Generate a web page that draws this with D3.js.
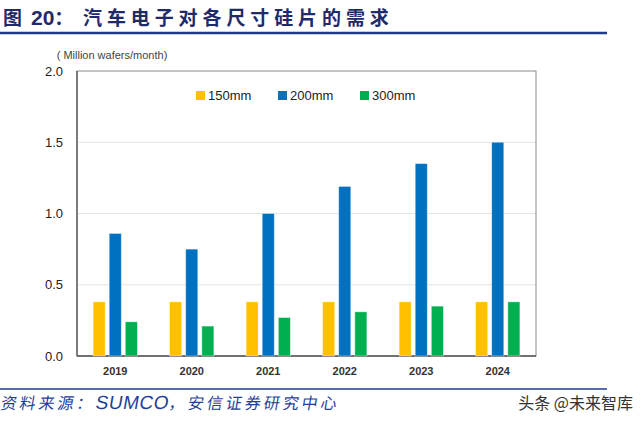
<!DOCTYPE html>
<html><head><meta charset="utf-8">
<script src="https://cdn.jsdelivr.net/npm/d3@7"></script>
<style>body{margin:0;background:#fff}svg{display:block}</style>
</head><body>
<svg id="c" width="640" height="422"></svg>
<script>
const categories = ["2019","2020","2021","2022","2023","2024"];
const seriesNames = ["150mm","200mm","300mm"];
const s150 = [0.38,0.38,0.38,0.38,0.38,0.38];
const s200 = [0.86,0.75,1.00,1.19,1.35,1.50];
const s300 = [0.24,0.21,0.27,0.31,0.35,0.38];
const yTicks = [0,0.5,1.0,1.5,2.0];
const colors = ["#FFC000","#0070C0","#00B050"];

const svg = d3.select("#c");
const m = {l:77,r:536,t:71,b:356};
const x = d3.scaleBand().domain(categories).range([m.l,m.r]);
const xs = d3.scaleBand().domain(seriesNames).range([0,x.bandwidth()]).paddingInner(0.25).paddingOuter(1.0);
const y = d3.scaleLinear().domain([0,2]).range([m.b,m.t]);

// title
const t = svg.append("text").attr("x",3).attr("y",25).attr("font-family","Noto Sans CJK SC").attr("font-weight","bold")
  .attr("font-size",19).attr("fill","#1F2A6B");
t.append("tspan").text("图");
t.append("tspan").attr("x",31).attr("font-family","Liberation Sans, Arial").attr("font-size",21).text("20");
t.append("tspan").text("：");
t.append("tspan").attr("x",83).attr("letter-spacing",4.9).text("汽车电子对各尺寸硅片的需求");
svg.append("line").attr("x1",0).attr("x2",607).attr("y1",33).attr("y2",33).attr("stroke","#1F3A8A").attr("stroke-width",2.3);

// gridlines
svg.append("g").selectAll("line").data(yTicks.filter(d=>d>0&&d<2)).join("line")
  .attr("x1",m.l).attr("x2",m.r).attr("y1",d=>y(d)).attr("y2",d=>y(d)).attr("stroke","#e3e3e3").attr("stroke-width",1);

// box
svg.append("rect").attr("x",m.l).attr("y",m.t).attr("width",m.r-m.l).attr("height",m.b-m.t)
  .attr("fill","none").attr("stroke","#8a8a8a").attr("stroke-width",1);
svg.append("line").attr("x1",m.l).attr("x2",m.l).attr("y1",m.t).attr("y2",m.b).attr("stroke","#555").attr("stroke-width",1.3);
svg.append("line").attr("x1",m.l).attr("x2",m.r).attr("y1",m.b).attr("y2",m.b).attr("stroke","#555").attr("stroke-width",1.3);

// y axis
const yAxis = d3.axisLeft(y).tickValues(yTicks).tickFormat(d3.format(".1f")).tickSize(0).tickPadding(14);
const ya = svg.append("g").attr("transform",`translate(${m.l},0)`).call(yAxis);
ya.select(".domain").remove();
ya.selectAll("text").attr("font-family","Liberation Sans, Arial").attr("font-size",13).attr("fill","#222");

svg.append("text").attr("x",112).attr("y",59).attr("text-anchor","middle").attr("font-family","Liberation Sans, Arial")
  .attr("font-size",11).attr("fill","#444").text("( Million wafers/month)");

// x axis
const xAxis = d3.axisBottom(x).tickSize(0).tickPadding(11);
const xa = svg.append("g").attr("transform",`translate(0,${m.b})`).call(xAxis);
xa.select(".domain").remove();
xa.selectAll("text").attr("font-family","Liberation Sans, Arial").attr("font-size",11).attr("font-weight","bold").attr("fill","#333");

// bars
const data = [s150,s200,s300];
const g = svg.append("g");
seriesNames.forEach((s,i)=>{
  g.selectAll(null).data(categories).join("rect")
    .attr("x",c=>x(c)+xs(s)).attr("width",xs.bandwidth())
    .attr("y",(c,j)=>y(data[i][j])).attr("height",(c,j)=>y(0)-y(data[i][j]))
    .attr("fill",colors[i]).attr("stroke","#ffffff").attr("stroke-opacity",0.5).attr("stroke-width",0.8);
});

// legend
const lx = [196,278,360];
seriesNames.forEach((s,i)=>{
  svg.append("rect").attr("x",lx[i]).attr("y",91).attr("width",9).attr("height",9).attr("fill",colors[i]);
  svg.append("text").attr("x",lx[i]+12).attr("y",100).attr("font-family","Liberation Sans, Arial")
    .attr("font-size",13).attr("fill","#222").text(s);
});

// footer
svg.append("line").attr("x1",0).attr("x2",607).attr("y1",389).attr("y2",389).attr("stroke","#1F3A8A").attr("stroke-width",1.5);
const f = svg.append("text").attr("x",0).attr("y",409).attr("font-family","Noto Sans CJK SC")
  .attr("font-size",16).attr("fill","#1F3F99").attr("transform","translate(72,0) skewX(-10)");
f.append("tspan").attr("letter-spacing",3).text("资料来源：");
f.append("tspan").attr("font-family","Liberation Sans, Arial").attr("font-size",19).attr("letter-spacing",0.5).text("SUMCO");
f.append("tspan").attr("letter-spacing",3).text("，安信证券研究中心");
svg.append("text").attr("x",633).attr("y",409).attr("text-anchor","end").attr("font-family","Noto Sans CJK SC")
  .attr("font-size",16).attr("fill","#333").text("头条 @未来智库");
</script>
</body></html>
